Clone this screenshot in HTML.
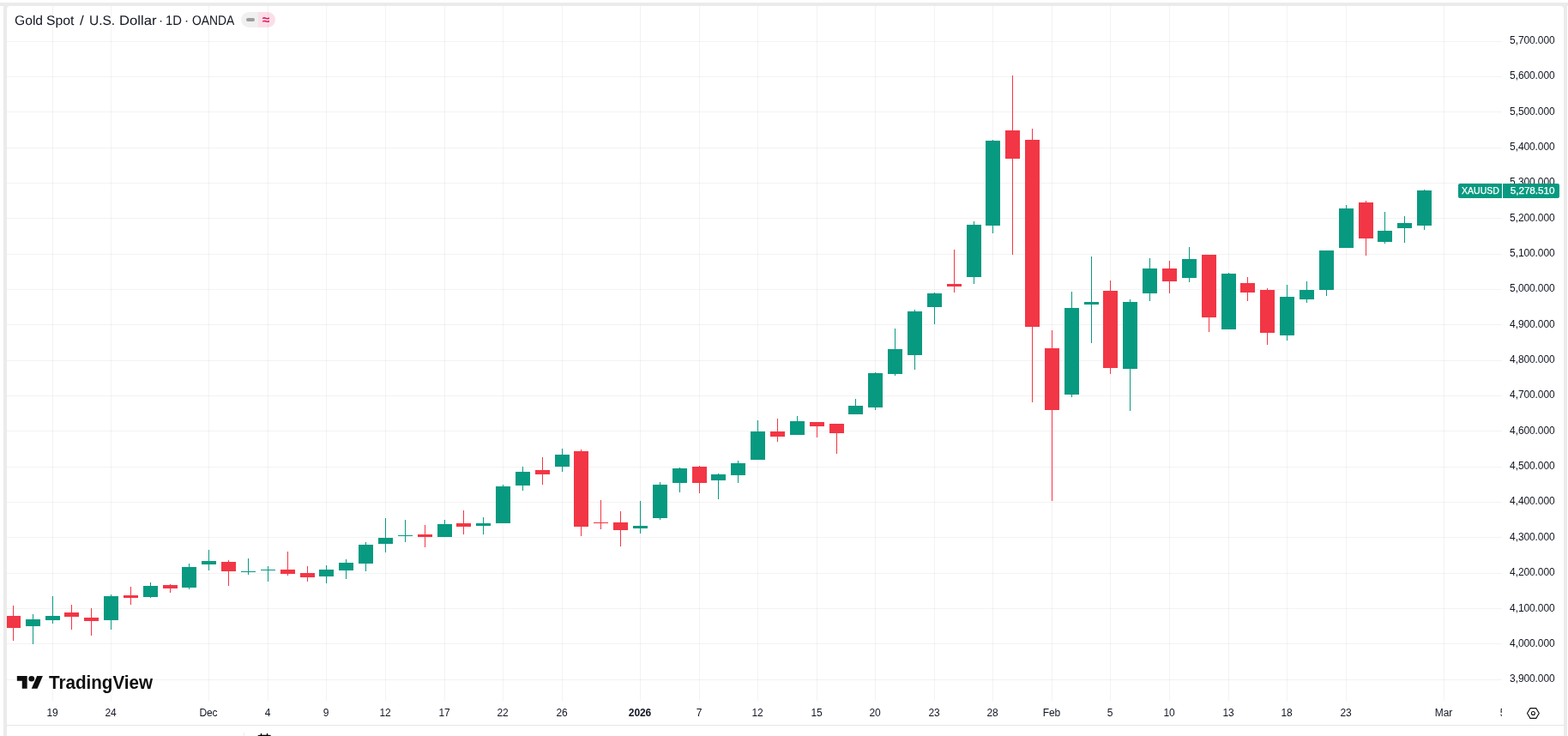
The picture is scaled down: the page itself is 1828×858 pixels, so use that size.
<!DOCTYPE html>
<html lang="en">
<head>
<meta charset="utf-8">
<title>Gold Spot / U.S. Dollar</title>
<style>
html,body{margin:0;padding:0;}
body{width:1828px;height:858px;background:#fff;position:relative;overflow:hidden;font-family:"Liberation Sans",sans-serif;color:#131722;}
.frame{position:absolute;left:0;top:3px;width:1828px;height:4px;background:#ebebeb;}
.fl{position:absolute;left:4px;top:3px;width:8px;height:858px;background:#ebebeb;}
.fr{position:absolute;left:1819px;top:3px;width:8px;height:858px;background:#ebebeb;}
.panel{position:absolute;left:8px;top:7px;width:1815px;height:858px;background:#fff;border-radius:4px 4px 0 0;}
svg.chart{position:absolute;left:0;top:0;}
.pl{position:absolute;left:1751px;width:61.6px;text-align:right;font-size:12px;letter-spacing:-0.1px;line-height:14px;height:14px;white-space:nowrap;}
.tlwrap{position:absolute;left:8px;top:817px;width:1743px;height:28px;overflow:hidden;}
.tl{position:absolute;top:7px;width:60px;margin-left:-8px;text-align:center;font-size:12px;letter-spacing:-0.1px;line-height:14px;white-space:nowrap;}
.tl.b{font-weight:bold;}
.sep{position:absolute;left:284px;top:854px;width:1px;height:4px;background:#ebebeb;}
.bline{position:absolute;left:8px;top:845px;width:1815px;height:1px;background:#e6e6e6;}
.title{position:absolute;left:0;top:15px;font-size:15.4px;line-height:18px;white-space:nowrap;}
.title span{position:absolute;top:0;display:block;transform-origin:0 14px;}
.pill{position:absolute;left:281px;top:14px;width:40px;height:18px;border-radius:9px;overflow:hidden;}
.pill .l{position:absolute;left:0;top:0;width:20px;height:18px;background:rgba(0,0,0,0.06);}
.pill .r{position:absolute;left:20px;top:0;width:20px;height:18px;background:rgba(224,24,90,0.14);}
.pill .dash{position:absolute;left:6px;top:7px;width:10px;height:4px;border-radius:2px;background:#9e9e9e;}
.pill .ap{position:absolute;left:20px;top:-1px;width:18px;height:18px;text-align:center;font-size:15px;line-height:17px;color:#e0185a;font-weight:bold;transform:translateY(0.5px) scale(1.04,1.0);}
.ptag{position:absolute;top:214px;height:17px;background:#089981;color:#fff;font-size:12px;line-height:17px;white-space:nowrap;-webkit-text-stroke:0.25px #fff;}
.ptag.sym{left:1700px;width:51px;border-radius:2px 0 0 2px;}
.ptag.sym span{position:absolute;left:3.54px;top:0;display:block;font-size:11.4px;transform-origin:0 0;transform:scaleX(0.9268);}
.ptag.val{left:1752px;width:66px;border-radius:0 2px 2px 0;text-align:right;}
.ptag.val span{padding-right:5.6px;letter-spacing:-0.1px;font-size:11.8px;}
.logotext{position:absolute;left:57.05px;top:784px;font-size:21.2px;line-height:24px;font-weight:bold;color:#0f0f0f;white-space:nowrap;text-shadow:1.5px 0 0 #fff,-1.5px 0 0 #fff,0 1.5px 0 #fff,0 -1.5px 0 #fff,1px 1px 0 #fff,-1px -1px 0 #fff,1px -1px 0 #fff,-1px 1px 0 #fff;transform-origin:0 0;transform:scaleX(0.9732);}
</style>
</head>
<body>
<div class="frame"></div><div class="fl"></div><div class="fr"></div>
<div class="panel"></div>
<svg class="chart" width="1828" height="858" viewBox="0 0 1828 858" shape-rendering="crispEdges">
<rect x="8" y="48" width="1743" height="1" fill="#2e2e2e" fill-opacity="0.06"/>
<rect x="8" y="89" width="1743" height="1" fill="#2e2e2e" fill-opacity="0.06"/>
<rect x="8" y="130" width="1743" height="1" fill="#2e2e2e" fill-opacity="0.06"/>
<rect x="8" y="172" width="1743" height="1" fill="#2e2e2e" fill-opacity="0.06"/>
<rect x="8" y="213" width="1743" height="1" fill="#2e2e2e" fill-opacity="0.06"/>
<rect x="8" y="254" width="1743" height="1" fill="#2e2e2e" fill-opacity="0.06"/>
<rect x="8" y="296" width="1743" height="1" fill="#2e2e2e" fill-opacity="0.06"/>
<rect x="8" y="337" width="1743" height="1" fill="#2e2e2e" fill-opacity="0.06"/>
<rect x="8" y="378" width="1743" height="1" fill="#2e2e2e" fill-opacity="0.06"/>
<rect x="8" y="420" width="1743" height="1" fill="#2e2e2e" fill-opacity="0.06"/>
<rect x="8" y="461" width="1743" height="1" fill="#2e2e2e" fill-opacity="0.06"/>
<rect x="8" y="502" width="1743" height="1" fill="#2e2e2e" fill-opacity="0.06"/>
<rect x="8" y="544" width="1743" height="1" fill="#2e2e2e" fill-opacity="0.06"/>
<rect x="8" y="585" width="1743" height="1" fill="#2e2e2e" fill-opacity="0.06"/>
<rect x="8" y="626" width="1743" height="1" fill="#2e2e2e" fill-opacity="0.06"/>
<rect x="8" y="668" width="1743" height="1" fill="#2e2e2e" fill-opacity="0.06"/>
<rect x="8" y="709" width="1743" height="1" fill="#2e2e2e" fill-opacity="0.06"/>
<rect x="8" y="750" width="1743" height="1" fill="#2e2e2e" fill-opacity="0.06"/>
<rect x="8" y="792" width="1743" height="1" fill="#2e2e2e" fill-opacity="0.06"/>
<rect x="61" y="7" width="1" height="810" fill="#2e2e2e" fill-opacity="0.06"/>
<rect x="129" y="7" width="1" height="810" fill="#2e2e2e" fill-opacity="0.06"/>
<rect x="243" y="7" width="1" height="810" fill="#2e2e2e" fill-opacity="0.06"/>
<rect x="312" y="7" width="1" height="810" fill="#2e2e2e" fill-opacity="0.06"/>
<rect x="380" y="7" width="1" height="810" fill="#2e2e2e" fill-opacity="0.06"/>
<rect x="449" y="7" width="1" height="810" fill="#2e2e2e" fill-opacity="0.06"/>
<rect x="518" y="7" width="1" height="810" fill="#2e2e2e" fill-opacity="0.06"/>
<rect x="586" y="7" width="1" height="810" fill="#2e2e2e" fill-opacity="0.06"/>
<rect x="655" y="7" width="1" height="810" fill="#2e2e2e" fill-opacity="0.06"/>
<rect x="746" y="7" width="1" height="810" fill="#2e2e2e" fill-opacity="0.06"/>
<rect x="815" y="7" width="1" height="810" fill="#2e2e2e" fill-opacity="0.06"/>
<rect x="883" y="7" width="1" height="810" fill="#2e2e2e" fill-opacity="0.06"/>
<rect x="952" y="7" width="1" height="810" fill="#2e2e2e" fill-opacity="0.06"/>
<rect x="1020" y="7" width="1" height="810" fill="#2e2e2e" fill-opacity="0.06"/>
<rect x="1089" y="7" width="1" height="810" fill="#2e2e2e" fill-opacity="0.06"/>
<rect x="1157" y="7" width="1" height="810" fill="#2e2e2e" fill-opacity="0.06"/>
<rect x="1226" y="7" width="1" height="810" fill="#2e2e2e" fill-opacity="0.06"/>
<rect x="1294" y="7" width="1" height="810" fill="#2e2e2e" fill-opacity="0.06"/>
<rect x="1363" y="7" width="1" height="810" fill="#2e2e2e" fill-opacity="0.06"/>
<rect x="1432" y="7" width="1" height="810" fill="#2e2e2e" fill-opacity="0.06"/>
<rect x="1500" y="7" width="1" height="810" fill="#2e2e2e" fill-opacity="0.06"/>
<rect x="1569" y="7" width="1" height="810" fill="#2e2e2e" fill-opacity="0.06"/>
<rect x="1683" y="7" width="1" height="810" fill="#2e2e2e" fill-opacity="0.06"/>
<rect x="15" y="706" width="1" height="41" fill="#f23645"/>
<rect x="8" y="718" width="16" height="14" fill="#f23645"/>
<rect x="38" y="716" width="1" height="35" fill="#089981"/>
<rect x="30" y="722" width="17" height="8" fill="#089981"/>
<rect x="61" y="695" width="1" height="32" fill="#089981"/>
<rect x="53" y="718" width="17" height="5" fill="#089981"/>
<rect x="83" y="705" width="1" height="29" fill="#f23645"/>
<rect x="75" y="714" width="17" height="5" fill="#f23645"/>
<rect x="106" y="709" width="1" height="32" fill="#f23645"/>
<rect x="98" y="720" width="17" height="4" fill="#f23645"/>
<rect x="129" y="693" width="1" height="41" fill="#089981"/>
<rect x="121" y="695" width="17" height="28" fill="#089981"/>
<rect x="152" y="684" width="1" height="21" fill="#f23645"/>
<rect x="144" y="694" width="17" height="3" fill="#f23645"/>
<rect x="175" y="679" width="1" height="18" fill="#089981"/>
<rect x="167" y="683" width="17" height="13" fill="#089981"/>
<rect x="198" y="681" width="1" height="10" fill="#f23645"/>
<rect x="190" y="682" width="17" height="4" fill="#f23645"/>
<rect x="220" y="657" width="1" height="30" fill="#089981"/>
<rect x="212" y="661" width="17" height="24" fill="#089981"/>
<rect x="243" y="641" width="1" height="24" fill="#089981"/>
<rect x="235" y="654" width="17" height="4" fill="#089981"/>
<rect x="266" y="653" width="1" height="30" fill="#f23645"/>
<rect x="258" y="655" width="17" height="11" fill="#f23645"/>
<rect x="289" y="651" width="1" height="19" fill="#089981"/>
<rect x="281" y="666" width="17" height="1" fill="#089981"/>
<rect x="312" y="660" width="1" height="18" fill="#089981"/>
<rect x="304" y="664" width="17" height="1" fill="#089981"/>
<rect x="335" y="643" width="1" height="28" fill="#f23645"/>
<rect x="327" y="664" width="17" height="5" fill="#f23645"/>
<rect x="358" y="660" width="1" height="18" fill="#f23645"/>
<rect x="350" y="668" width="17" height="5" fill="#f23645"/>
<rect x="380" y="659" width="1" height="21" fill="#089981"/>
<rect x="372" y="664" width="17" height="8" fill="#089981"/>
<rect x="403" y="652" width="1" height="23" fill="#089981"/>
<rect x="395" y="656" width="17" height="9" fill="#089981"/>
<rect x="426" y="632" width="1" height="34" fill="#089981"/>
<rect x="418" y="635" width="17" height="22" fill="#089981"/>
<rect x="449" y="604" width="1" height="40" fill="#089981"/>
<rect x="441" y="627" width="17" height="7" fill="#089981"/>
<rect x="472" y="606" width="1" height="26" fill="#089981"/>
<rect x="464" y="624" width="17" height="1" fill="#089981"/>
<rect x="495" y="612" width="1" height="26" fill="#f23645"/>
<rect x="487" y="623" width="17" height="3" fill="#f23645"/>
<rect x="518" y="606" width="1" height="20" fill="#089981"/>
<rect x="510" y="611" width="17" height="15" fill="#089981"/>
<rect x="540" y="595" width="1" height="28" fill="#f23645"/>
<rect x="532" y="610" width="17" height="4" fill="#f23645"/>
<rect x="563" y="603" width="1" height="20" fill="#089981"/>
<rect x="555" y="610" width="17" height="3" fill="#089981"/>
<rect x="586" y="565" width="1" height="45" fill="#089981"/>
<rect x="578" y="567" width="17" height="43" fill="#089981"/>
<rect x="609" y="544" width="1" height="28" fill="#089981"/>
<rect x="601" y="550" width="17" height="16" fill="#089981"/>
<rect x="632" y="533" width="1" height="32" fill="#f23645"/>
<rect x="624" y="548" width="17" height="5" fill="#f23645"/>
<rect x="655" y="523" width="1" height="27" fill="#089981"/>
<rect x="647" y="530" width="17" height="14" fill="#089981"/>
<rect x="677" y="524" width="1" height="101" fill="#f23645"/>
<rect x="669" y="526" width="17" height="88" fill="#f23645"/>
<rect x="700" y="583" width="1" height="34" fill="#f23645"/>
<rect x="692" y="609" width="17" height="1" fill="#f23645"/>
<rect x="723" y="596" width="1" height="41" fill="#f23645"/>
<rect x="715" y="609" width="17" height="9" fill="#f23645"/>
<rect x="746" y="584" width="1" height="38" fill="#089981"/>
<rect x="738" y="613" width="17" height="3" fill="#089981"/>
<rect x="769" y="562" width="1" height="44" fill="#089981"/>
<rect x="761" y="565" width="17" height="39" fill="#089981"/>
<rect x="792" y="545" width="1" height="29" fill="#089981"/>
<rect x="784" y="546" width="17" height="17" fill="#089981"/>
<rect x="815" y="543" width="1" height="32" fill="#f23645"/>
<rect x="807" y="544" width="17" height="19" fill="#f23645"/>
<rect x="837" y="552" width="1" height="30" fill="#089981"/>
<rect x="829" y="553" width="17" height="7" fill="#089981"/>
<rect x="860" y="537" width="1" height="26" fill="#089981"/>
<rect x="852" y="540" width="17" height="14" fill="#089981"/>
<rect x="883" y="490" width="1" height="46" fill="#089981"/>
<rect x="875" y="503" width="17" height="33" fill="#089981"/>
<rect x="906" y="488" width="1" height="27" fill="#f23645"/>
<rect x="898" y="503" width="17" height="6" fill="#f23645"/>
<rect x="929" y="485" width="1" height="22" fill="#089981"/>
<rect x="921" y="491" width="17" height="16" fill="#089981"/>
<rect x="952" y="492" width="1" height="18" fill="#f23645"/>
<rect x="944" y="492" width="17" height="5" fill="#f23645"/>
<rect x="975" y="494" width="1" height="35" fill="#f23645"/>
<rect x="967" y="494" width="17" height="11" fill="#f23645"/>
<rect x="997" y="465" width="1" height="18" fill="#089981"/>
<rect x="989" y="473" width="17" height="10" fill="#089981"/>
<rect x="1020" y="434" width="1" height="44" fill="#089981"/>
<rect x="1012" y="435" width="17" height="40" fill="#089981"/>
<rect x="1043" y="383" width="1" height="55" fill="#089981"/>
<rect x="1035" y="407" width="17" height="29" fill="#089981"/>
<rect x="1066" y="361" width="1" height="70" fill="#089981"/>
<rect x="1058" y="363" width="17" height="51" fill="#089981"/>
<rect x="1089" y="341" width="1" height="37" fill="#089981"/>
<rect x="1081" y="342" width="17" height="16" fill="#089981"/>
<rect x="1112" y="291" width="1" height="50" fill="#f23645"/>
<rect x="1104" y="331" width="17" height="3" fill="#f23645"/>
<rect x="1135" y="258" width="1" height="73" fill="#089981"/>
<rect x="1127" y="262" width="17" height="61" fill="#089981"/>
<rect x="1157" y="163" width="1" height="109" fill="#089981"/>
<rect x="1149" y="164" width="17" height="99" fill="#089981"/>
<rect x="1180" y="88" width="1" height="209" fill="#f23645"/>
<rect x="1172" y="152" width="17" height="33" fill="#f23645"/>
<rect x="1203" y="150" width="1" height="319" fill="#f23645"/>
<rect x="1195" y="163" width="17" height="218" fill="#f23645"/>
<rect x="1226" y="385" width="1" height="199" fill="#f23645"/>
<rect x="1218" y="406" width="17" height="72" fill="#f23645"/>
<rect x="1249" y="340" width="1" height="123" fill="#089981"/>
<rect x="1241" y="359" width="17" height="101" fill="#089981"/>
<rect x="1272" y="299" width="1" height="101" fill="#089981"/>
<rect x="1264" y="352" width="17" height="3" fill="#089981"/>
<rect x="1294" y="327" width="1" height="109" fill="#f23645"/>
<rect x="1286" y="339" width="17" height="90" fill="#f23645"/>
<rect x="1317" y="349" width="1" height="130" fill="#089981"/>
<rect x="1309" y="352" width="17" height="78" fill="#089981"/>
<rect x="1340" y="301" width="1" height="50" fill="#089981"/>
<rect x="1332" y="313" width="17" height="29" fill="#089981"/>
<rect x="1363" y="304" width="1" height="38" fill="#f23645"/>
<rect x="1355" y="313" width="17" height="15" fill="#f23645"/>
<rect x="1386" y="288" width="1" height="41" fill="#089981"/>
<rect x="1378" y="302" width="17" height="22" fill="#089981"/>
<rect x="1409" y="297" width="1" height="90" fill="#f23645"/>
<rect x="1401" y="297" width="17" height="73" fill="#f23645"/>
<rect x="1432" y="318" width="1" height="66" fill="#089981"/>
<rect x="1424" y="319" width="17" height="65" fill="#089981"/>
<rect x="1454" y="323" width="1" height="28" fill="#f23645"/>
<rect x="1446" y="330" width="17" height="11" fill="#f23645"/>
<rect x="1477" y="336" width="1" height="66" fill="#f23645"/>
<rect x="1469" y="338" width="17" height="50" fill="#f23645"/>
<rect x="1500" y="332" width="1" height="65" fill="#089981"/>
<rect x="1492" y="346" width="17" height="45" fill="#089981"/>
<rect x="1523" y="328" width="1" height="25" fill="#089981"/>
<rect x="1515" y="338" width="17" height="11" fill="#089981"/>
<rect x="1546" y="292" width="1" height="53" fill="#089981"/>
<rect x="1538" y="292" width="17" height="46" fill="#089981"/>
<rect x="1569" y="239" width="1" height="50" fill="#089981"/>
<rect x="1561" y="243" width="17" height="46" fill="#089981"/>
<rect x="1592" y="234" width="1" height="64" fill="#f23645"/>
<rect x="1584" y="236" width="17" height="42" fill="#f23645"/>
<rect x="1614" y="247" width="1" height="37" fill="#089981"/>
<rect x="1606" y="269" width="17" height="13" fill="#089981"/>
<rect x="1637" y="252" width="1" height="31" fill="#089981"/>
<rect x="1629" y="260" width="17" height="6" fill="#089981"/>
<rect x="1660" y="221" width="1" height="47" fill="#089981"/>
<rect x="1652" y="222" width="17" height="41" fill="#089981"/>
</svg>
<div class="title"><span style="left:16.66px;transform:rotate(0.03deg) scale(1.0168,1.01)">Gold</span> <span style="left:53.88px;transform:rotate(0.03deg) scale(1.0244,1.01)">Spot</span> <span style="left:93.21px;transform:rotate(0.03deg) scale(1.1200,1.01)">/</span> <span style="left:104.19px;transform:rotate(0.03deg) scale(1.0053,1.01)">U.S.</span> <span style="left:138.82px;transform:rotate(0.03deg) scale(1.0820,1.01)">Dollar</span> <span style="left:184.55px;transform:rotate(0.03deg) scale(1.0000,1.01)">·</span> <span style="left:192.93px;transform:rotate(0.03deg) scale(0.9629,1.01)">1D</span> <span style="left:215.05px;transform:rotate(0.03deg) scale(1.0000,1.01)">·</span> <span style="left:223.60px;transform:rotate(0.03deg) scale(0.9018,1.01)">OANDA</span></div>
<div class="pill"><div class="l"></div><div class="r"></div><div class="dash"></div><div class="ap">≈</div></div>
<div class="pl" style="top:40px">5,700.000</div>
<div class="pl" style="top:81px">5,600.000</div>
<div class="pl" style="top:123px">5,500.000</div>
<div class="pl" style="top:164px">5,400.000</div>
<div class="pl" style="top:205px">5,300.000</div>
<div class="pl" style="top:247px">5,200.000</div>
<div class="pl" style="top:288px">5,100.000</div>
<div class="pl" style="top:329px">5,000.000</div>
<div class="pl" style="top:371px">4,900.000</div>
<div class="pl" style="top:412px">4,800.000</div>
<div class="pl" style="top:453px">4,700.000</div>
<div class="pl" style="top:495px">4,600.000</div>
<div class="pl" style="top:536px">4,500.000</div>
<div class="pl" style="top:577px">4,400.000</div>
<div class="pl" style="top:619px">4,300.000</div>
<div class="pl" style="top:660px">4,200.000</div>
<div class="pl" style="top:702px">4,100.000</div>
<div class="pl" style="top:743px">4,000.000</div>
<div class="pl" style="top:784px">3,900.000</div>
<div class="ptag sym"><span>XAUUSD</span></div>
<div class="ptag val"><span>5,278.510</span></div>
<div class="tlwrap">
<div class="tl" style="left:31px">19</div>
<div class="tl" style="left:99px">24</div>
<div class="tl" style="left:213px">Dec</div>
<div class="tl" style="left:282px">4</div>
<div class="tl" style="left:350px">9</div>
<div class="tl" style="left:419px">12</div>
<div class="tl" style="left:488px">17</div>
<div class="tl" style="left:556px">22</div>
<div class="tl" style="left:625px">26</div>
<div class="tl b" style="left:716px">2026</div>
<div class="tl" style="left:785px">7</div>
<div class="tl" style="left:853px">12</div>
<div class="tl" style="left:922px">15</div>
<div class="tl" style="left:990px">20</div>
<div class="tl" style="left:1059px">23</div>
<div class="tl" style="left:1127px">28</div>
<div class="tl" style="left:1196px">Feb</div>
<div class="tl" style="left:1264px">5</div>
<div class="tl" style="left:1333px">10</div>
<div class="tl" style="left:1402px">13</div>
<div class="tl" style="left:1470px">18</div>
<div class="tl" style="left:1539px">23</div>
<div class="tl" style="left:1653px">Mar</div>
<div class="tl" style="left:1722px">5</div>
</div>
<div class="bline"></div>
<svg class="logo" width="44" height="28" viewBox="0 0 44 28" style="position:absolute;left:15px;top:780px">
<g transform="translate(4.8,4.72) scale(0.848,0.82)" fill="#fff" stroke="#fff" stroke-width="3.6" stroke-linejoin="round"><path d="M14 22H7V11H0V4h14v18zM28 22h-8l7.5-18h8L28 22z"/><circle cx="20" cy="8" r="4"/></g>
<g transform="translate(4.8,4.72) scale(0.848,0.82)" fill="#0f0f0f"><path d="M14 22H7V11H0V4h14v18zM28 22h-8l7.5-18h8L28 22z"/><circle cx="20" cy="8" r="4"/></g>
</svg>
<div class="logotext">TradingView</div>
<svg style="position:absolute;left:1776px;top:821px" width="24" height="22" viewBox="0 0 24 22" fill="none" stroke="#0f0f0f" stroke-width="1.1" stroke-linejoin="round">
<path d="M4.5 10.5 L8 4.6 H14.8 L18.3 10.5 L14.8 16.4 H8 Z"/><circle cx="11.4" cy="10.5" r="2"/>
</svg>
<div class="sep"></div>
<svg style="position:absolute;left:296px;top:850px" width="24" height="8" viewBox="0 0 24 8" fill="none" stroke="#000" stroke-width="1.2">
<rect x="3.9" y="7.4" width="16.4" height="12" rx="3"/><path d="M8.5 5V8M15.5 5V8"/>
</svg>
</body>
</html>
